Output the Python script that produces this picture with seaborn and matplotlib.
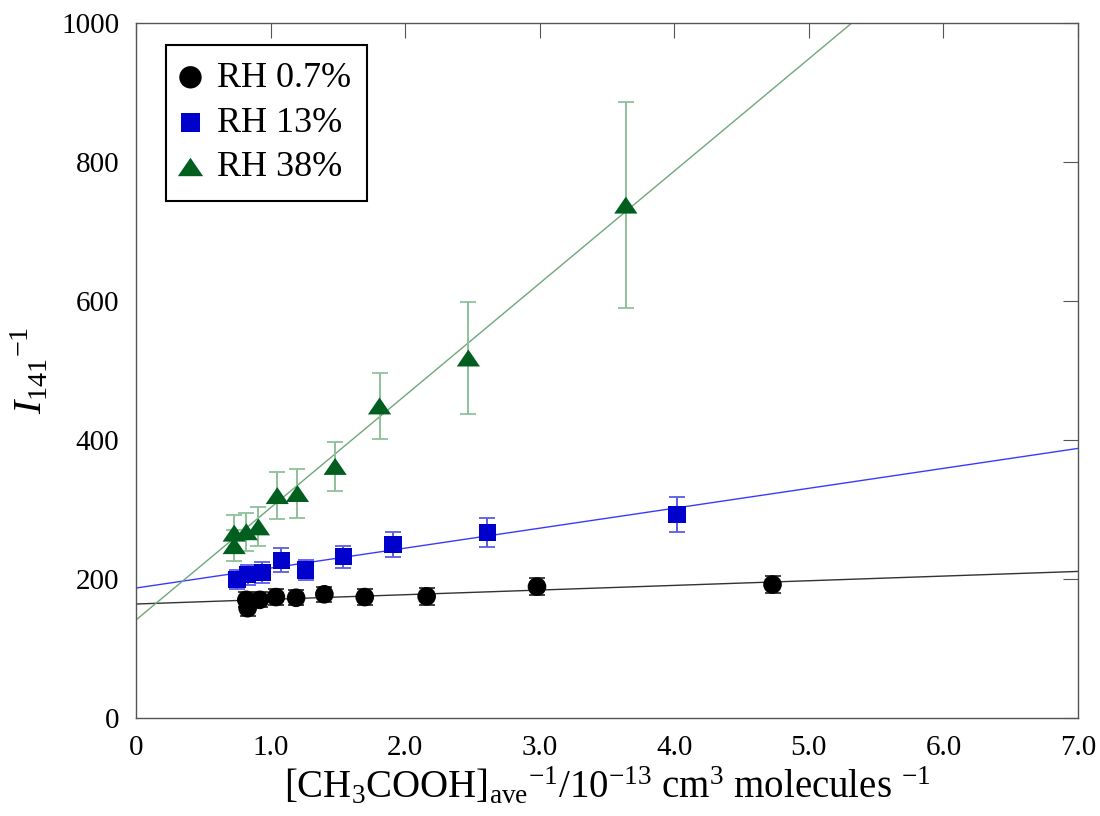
import numpy as np
import pandas as pd
import matplotlib
matplotlib.use("Agg")
import matplotlib.pyplot as plt
import seaborn as sns

# ---------------- data ----------------
series_labels = ["RH 0.7%", "RH 13%", "RH 38%"]

x_rh07 = [0.82, 0.83, 0.92, 1.04, 1.19, 1.40, 1.70, 2.16, 2.98, 4.73]
y_rh07 = [170, 158, 170, 174, 173, 178, 174, 175, 189, 192]
e_rh07 = [11, 11, 11, 11, 11, 11, 11, 12, 12, 12]

x_rh13 = [0.75, 0.83, 0.94, 1.08, 1.26, 1.54, 1.91, 2.61, 4.02]
y_rh13 = [199, 206, 209, 227, 213, 232, 250, 267, 293]
e_rh13 = [14, 14, 15, 17, 14, 16, 18, 21, 25]

x_rh38 = [0.73, 0.73, 0.82, 0.91, 1.05, 1.20, 1.48, 1.81, 2.47, 3.64]
y_rh38 = [248, 266, 268, 275, 320, 323, 362, 449, 518, 738]
e_rh38 = [22, 26, 27, 28, 34, 35, 35, 48, 81, 148]

fit_intercepts = [164, 187, 141]
fit_slopes = [6.7, 28.7, 161.5]

x_ticks = [0, 1, 2, 3, 4, 5, 6, 7]
x_tick_labels = ["0", "1.0", "2.0", "3.0", "4.0", "5.0", "6.0", "7.0"]
y_ticks = [0, 200, 400, 600, 800, 1000]
y_tick_labels = ["0", "200", "400", "600", "800", "1000"]

# ---------------- style ----------------
sns.set_theme(style="white")
plt.rcParams["font.family"] = ["Liberation Serif", "DejaVu Serif"]
plt.rcParams["mathtext.fontset"] = "custom"
plt.rcParams["mathtext.rm"] = "Liberation Serif"
plt.rcParams["mathtext.it"] = "Liberation Serif:italic"
plt.rcParams["mathtext.bf"] = "Liberation Serif:bold"
plt.rcParams["text.color"] = "black"
plt.rcParams["axes.labelcolor"] = "black"
plt.rcParams["xtick.color"] = "black"
plt.rcParams["ytick.color"] = "black"

marker_colors = ["#000000", "#0000cc", "#005f1f"]
line_colors = ["#333333", "#3a3aff", "#6fa77b"]
err_colors = ["#333333", "#5a5aee", "#8fc09b"]
tri = [(-1.0, -0.73), (1.0, -0.73), (0.0, 0.73)]
markers = ["o", "s", tri]
sizes = [180, 155, 280]

xs = [x_rh07, x_rh13, x_rh38]
ys = [y_rh07, y_rh13, y_rh38]
es = [e_rh07, e_rh13, e_rh38]

fig = plt.figure(figsize=(11, 8.16), dpi=100)
ax = fig.add_axes([0.1236, 0.1201, 0.8564, 0.8517])

line_x = np.array([0.0, 7.0])
for i in range(3):
    df_line = pd.DataFrame({"x": line_x,
                            "y": fit_intercepts[i] + fit_slopes[i] * line_x})
    sns.lineplot(data=df_line, x="x", y="y", ax=ax, color=line_colors[i],
                 linewidth=1.0, zorder=1)

for i in range(3):
    ax.errorbar(xs[i], ys[i], yerr=es[i], fmt="none", ecolor=err_colors[i],
                elinewidth=1.4, capsize=6, capthick=1.3, zorder=2)

for i in range(3):
    df = pd.DataFrame({"x": xs[i], "y": ys[i]})
    sns.scatterplot(data=df, x="x", y="y", ax=ax, marker=markers[i],
                    s=sizes[i], color=marker_colors[i], edgecolor="none",
                    linewidth=0, label=series_labels[i], zorder=3)

ax.set_xlim(0, 7)
ax.set_ylim(0, 1000)
ax.set_xticks(x_ticks)
ax.set_xticklabels(x_tick_labels)
ax.set_yticks(y_ticks)
ax.set_yticklabels(y_tick_labels)
ax.tick_params(axis="both", which="major", direction="in", length=11,
               width=0.8, color="#555555", labelcolor="black", top=True,
               right=True, labelsize=21, pad=12)
for sp in ax.spines.values():
    sp.set_color("#555555")
    sp.set_linewidth(1.0)

ax.set_xlabel(r"[CH$_3$COOH]$_{\rm ave}$$^{-1}$/10$^{-13}$ cm$^3$ molecules $^{-1}$",
              fontsize=28, labelpad=4)
ax.set_ylabel(r"$I_{\rm 141}{}^{-1}$", fontsize=29, labelpad=7)

leg = ax.legend(loc="upper left", bbox_to_anchor=(0.032, 0.968),
                borderaxespad=0, fontsize=26, frameon=True, fancybox=False,
                edgecolor="black", framealpha=1, handletextpad=0.5,
                labelspacing=0.32, borderpad=0.45, handlelength=0.45)
leg.get_frame().set_linewidth(1.5)
for h, s in zip(leg.legend_handles, [260, 190, 330]):
    h.set_sizes([s])

fig.savefig("out.png", dpi=100)
